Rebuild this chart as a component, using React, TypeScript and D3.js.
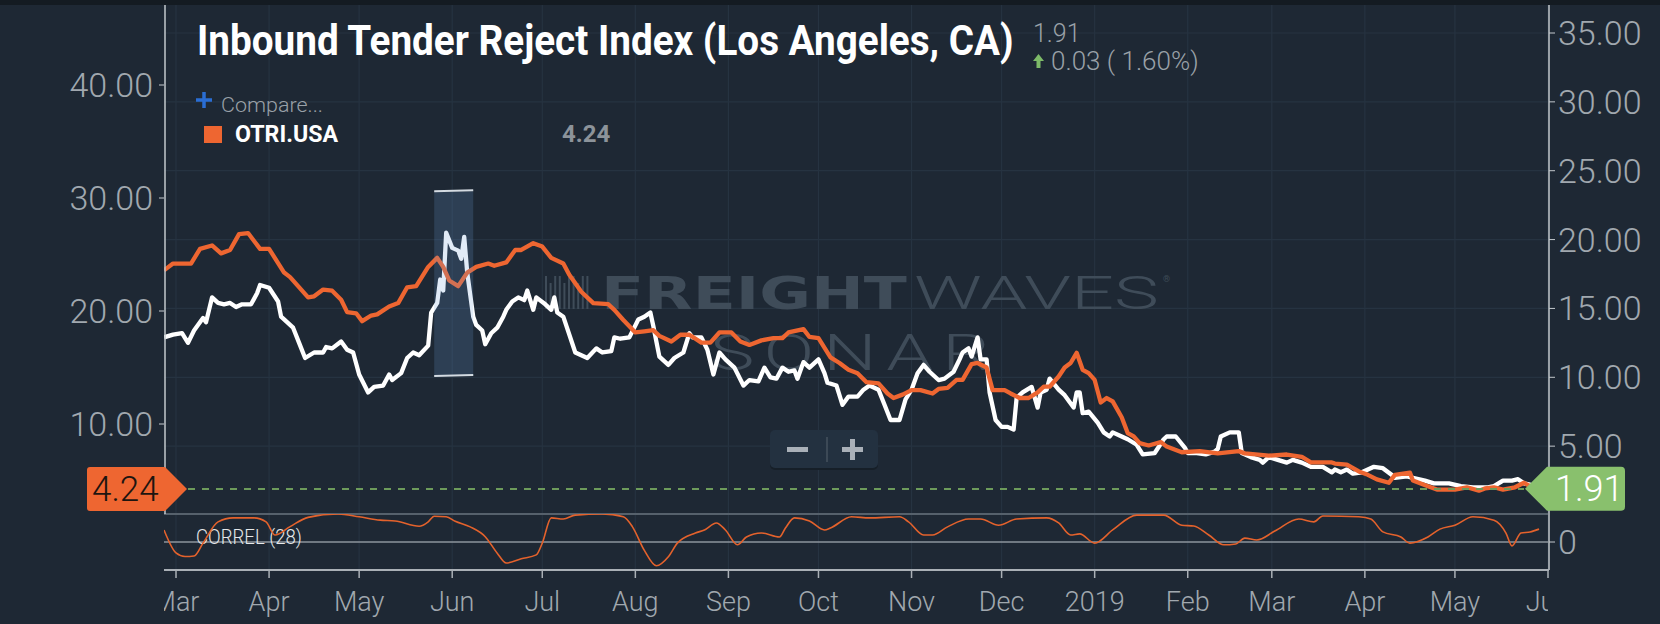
import React, { useEffect, useRef } from 'react';
import * as d3 from 'd3';

type Point = [string, number];

// OTRI.USA (left axis)
const otriUsa: Point[] = [
  ['2018-02-25', 23.6], ['2018-02-28', 24.2], ['2018-03-06', 24.2], ['2018-03-09', 25.5], ['2018-03-13', 25.8],
  ['2018-03-16', 25.1], ['2018-03-19', 25.4], ['2018-03-22', 26.8], ['2018-03-25', 26.9], ['2018-03-27', 26.2],
  ['2018-03-29', 25.5], ['2018-04-01', 25.5], ['2018-04-06', 23.4], ['2018-04-08', 23.0], ['2018-04-14', 21.2],
  ['2018-04-16', 21.3], ['2018-04-19', 21.9], ['2018-04-22', 21.8], ['2018-04-25', 21.0], ['2018-04-27', 19.9],
  ['2018-04-30', 19.8], ['2018-05-02', 19.1], ['2018-05-05', 19.6], ['2018-05-07', 19.7], ['2018-05-11', 20.4],
  ['2018-05-14', 20.7], ['2018-05-17', 22.1], ['2018-05-20', 22.2], ['2018-05-24', 23.9], ['2018-05-27', 24.7],
  ['2018-05-29', 23.9], ['2018-05-31', 22.7], ['2018-06-03', 22.2], ['2018-06-06', 23.4], ['2018-06-09', 23.9],
  ['2018-06-13', 24.2], ['2018-06-15', 24.0], ['2018-06-19', 24.3], ['2018-06-22', 25.4], ['2018-06-24', 25.4],
  ['2018-06-28', 26.0], ['2018-07-01', 25.7], ['2018-07-04', 24.7], ['2018-07-08', 24.2], ['2018-07-10', 23.2],
  ['2018-07-14', 21.7], ['2018-07-18', 20.7], ['2018-07-23', 20.6], ['2018-07-25', 20.1], ['2018-07-28', 19.2],
  ['2018-08-01', 18.1], ['2018-08-04', 18.2], ['2018-08-07', 18.3], ['2018-08-09', 17.8], ['2018-08-13', 17.3],
  ['2018-08-16', 17.9], ['2018-08-19', 17.9], ['2018-08-23', 17.2], ['2018-08-26', 17.2], ['2018-08-29', 18.1],
  ['2018-09-02', 18.1], ['2018-09-05', 17.3], ['2018-09-08', 17.0], ['2018-09-12', 17.4], ['2018-09-16', 17.6],
  ['2018-09-19', 17.6], ['2018-09-21', 18.1], ['2018-09-26', 18.4], ['2018-09-28', 17.7], ['2018-10-01', 17.6],
  ['2018-10-05', 15.9], ['2018-10-08', 15.4], ['2018-10-11', 14.8], ['2018-10-14', 14.5], ['2018-10-17', 13.7],
  ['2018-10-21', 13.6], ['2018-10-24', 12.7], ['2018-10-26', 12.3], ['2018-10-29', 12.6], ['2018-11-01', 13.0],
  ['2018-11-04', 13.0], ['2018-11-08', 12.7], ['2018-11-10', 13.1], ['2018-11-13', 13.2], ['2018-11-16', 13.9],
  ['2018-11-18', 13.9], ['2018-11-21', 15.3], ['2018-11-23', 15.4], ['2018-11-26', 15.0], ['2018-11-28', 13.0],
  ['2018-12-02', 13.0], ['2018-12-04', 12.7], ['2018-12-07', 12.3], ['2018-12-10', 12.3], ['2018-12-13', 12.8],
  ['2018-12-15', 13.3], ['2018-12-17', 13.3], ['2018-12-20', 14.2], ['2018-12-22', 15.0], ['2018-12-24', 15.4],
  ['2018-12-26', 16.3], ['2018-12-28', 14.8], ['2018-12-30', 14.5], ['2019-01-01', 13.9], ['2019-01-03', 11.9],
  ['2019-01-05', 12.3], ['2019-01-07', 12.0], ['2019-01-10', 10.6], ['2019-01-12', 9.2], ['2019-01-14', 8.9],
  ['2019-01-16', 8.3], ['2019-01-19', 8.1], ['2019-01-23', 8.4], ['2019-01-25', 8.0], ['2019-01-30', 7.5],
  ['2019-02-05', 7.6], ['2019-02-11', 7.4], ['2019-02-18', 7.6], ['2019-02-20', 7.4], ['2019-02-28', 7.2],
  ['2019-03-06', 7.3], ['2019-03-11', 7.1], ['2019-03-14', 6.6], ['2019-03-21', 6.6], ['2019-03-22', 6.5],
  ['2019-03-26', 6.4], ['2019-03-30', 5.8], ['2019-04-02', 5.5], ['2019-04-05', 5.1], ['2019-04-09', 4.8],
  ['2019-04-11', 5.5], ['2019-04-16', 5.7], ['2019-04-17', 5.0], ['2019-04-22', 4.5], ['2019-04-25', 4.2],
  ['2019-05-01', 4.2], ['2019-05-05', 4.4], ['2019-05-09', 4.1], ['2019-05-11', 4.3], ['2019-05-14', 4.4],
  ['2019-05-17', 4.2], ['2019-05-21', 4.4], ['2019-05-24', 4.8], ['2019-05-26', 4.5], ['2019-05-29', 4.24],
];

// Inbound Tender Reject Index, Los Angeles (right axis)
const inboundLA: Point[] = [
  ['2018-02-25', 12.9], ['2018-02-28', 13.1], ['2018-03-03', 13.2], ['2018-03-05', 12.5], ['2018-03-07', 13.4],
  ['2018-03-10', 14.3], ['2018-03-11', 14.0], ['2018-03-13', 15.8], ['2018-03-15', 15.4], ['2018-03-17', 15.3],
  ['2018-03-19', 15.4], ['2018-03-21', 15.1], ['2018-03-23', 15.3], ['2018-03-26', 15.3], ['2018-03-28', 16.1],
  ['2018-03-29', 16.7], ['2018-04-01', 16.5], ['2018-04-04', 15.5], ['2018-04-05', 14.4], ['2018-04-07', 14.0],
  ['2018-04-09', 13.6], ['2018-04-11', 12.5], ['2018-04-13', 11.4], ['2018-04-16', 11.8], ['2018-04-19', 11.8],
  ['2018-04-20', 12.2], ['2018-04-22', 12.1], ['2018-04-25', 12.6], ['2018-04-27', 12.0], ['2018-04-29', 11.8],
  ['2018-05-01', 10.2], ['2018-05-04', 8.9], ['2018-05-06', 9.3], ['2018-05-09', 9.4], ['2018-05-11', 10.2],
  ['2018-05-12', 9.8], ['2018-05-15', 10.3], ['2018-05-17', 11.4], ['2018-05-19', 11.8], ['2018-05-21', 11.6],
  ['2018-05-24', 12.3], ['2018-05-25', 14.7], ['2018-05-27', 15.4], ['2018-05-28', 17.1], ['2018-05-29', 16.3],
  ['2018-05-30', 20.5], ['2018-06-01', 19.4], ['2018-06-03', 19.2], ['2018-06-04', 18.6], ['2018-06-05', 20.2],
  ['2018-06-06', 17.6], ['2018-06-08', 14.4], ['2018-06-09', 13.8], ['2018-06-11', 13.4], ['2018-06-12', 12.4],
  ['2018-06-14', 13.2], ['2018-06-16', 13.6], ['2018-06-18', 14.4], ['2018-06-19', 14.9], ['2018-06-21', 15.5],
  ['2018-06-23', 15.8], ['2018-06-25', 15.6], ['2018-06-26', 16.3], ['2018-06-28', 14.9], ['2018-06-29', 15.8],
  ['2018-07-02', 15.3], ['2018-07-04', 14.9], ['2018-07-05', 15.8], ['2018-07-06', 14.7], ['2018-07-08', 14.4],
  ['2018-07-12', 11.8], ['2018-07-16', 11.4], ['2018-07-19', 12.1], ['2018-07-21', 11.8], ['2018-07-24', 11.9],
  ['2018-07-25', 12.9], ['2018-07-27', 12.8], ['2018-07-30', 12.9], ['2018-08-02', 14.2], ['2018-08-04', 14.4],
  ['2018-08-06', 14.7], ['2018-08-07', 13.7], ['2018-08-09', 11.5], ['2018-08-12', 10.9], ['2018-08-14', 11.4],
  ['2018-08-17', 11.8], ['2018-08-19', 13.2], ['2018-08-20', 12.9], ['2018-08-23', 12.9], ['2018-08-25', 12.0],
  ['2018-08-27', 10.2], ['2018-08-29', 11.8], ['2018-08-31', 11.3], ['2018-09-03', 10.7], ['2018-09-06', 9.4],
  ['2018-09-08', 9.8], ['2018-09-11', 9.7], ['2018-09-13', 10.7], ['2018-09-15', 10.0], ['2018-09-17', 9.9],
  ['2018-09-19', 10.7], ['2018-09-21', 10.4], ['2018-09-23', 10.5], ['2018-09-24', 9.9], ['2018-09-26', 11.1],
  ['2018-09-28', 10.7], ['2018-10-01', 11.3], ['2018-10-03', 10.3], ['2018-10-04', 9.6], ['2018-10-07', 9.4],
  ['2018-10-09', 8.0], ['2018-10-11', 8.6], ['2018-10-14', 8.6], ['2018-10-16', 9.1], ['2018-10-18', 9.4],
  ['2018-10-21', 9.1], ['2018-10-23', 8.0], ['2018-10-25', 6.9], ['2018-10-28', 6.9], ['2018-10-30', 8.4],
  ['2018-11-01', 9.1], ['2018-11-03', 10.3], ['2018-11-05', 10.9], ['2018-11-07', 10.4], ['2018-11-10', 9.8],
  ['2018-11-12', 9.9], ['2018-11-15', 10.4], ['2018-11-17', 11.3], ['2018-11-18', 11.8], ['2018-11-20', 12.1],
  ['2018-11-21', 11.5], ['2018-11-23', 12.9], ['2018-11-24', 11.3], ['2018-11-26', 11.3], ['2018-11-27', 8.9],
  ['2018-11-29', 6.9], ['2018-12-01', 6.4], ['2018-12-03', 6.4], ['2018-12-05', 6.2], ['2018-12-06', 8.5],
  ['2018-12-08', 8.9], ['2018-12-11', 9.3], ['2018-12-13', 7.8], ['2018-12-14', 8.9], ['2018-12-16', 9.1],
  ['2018-12-17', 9.9], ['2018-12-20', 9.1], ['2018-12-22', 8.7], ['2018-12-25', 7.8], ['2018-12-26', 8.9],
  ['2018-12-27', 8.9], ['2018-12-28', 7.4], ['2018-12-30', 7.5], ['2019-01-02', 6.7], ['2019-01-04', 6.0],
  ['2019-01-06', 5.7], ['2019-01-07', 6.0], ['2019-01-10', 5.7], ['2019-01-12', 5.5], ['2019-01-15', 5.1],
  ['2019-01-17', 4.4], ['2019-01-21', 4.5], ['2019-01-24', 5.5], ['2019-01-25', 5.7], ['2019-01-28', 5.7],
  ['2019-01-31', 4.9], ['2019-02-01', 4.5], ['2019-02-04', 4.5], ['2019-02-07', 4.4], ['2019-02-10', 4.6],
  ['2019-02-11', 4.8], ['2019-02-12', 5.7], ['2019-02-15', 6.0], ['2019-02-18', 6.0], ['2019-02-19', 4.5],
  ['2019-02-22', 4.2], ['2019-02-25', 4.0], ['2019-02-26', 3.8], ['2019-02-28', 4.2], ['2019-03-03', 4.0],
  ['2019-03-06', 3.8], ['2019-03-08', 4.0], ['2019-03-11', 3.8], ['2019-03-14', 3.5], ['2019-03-18', 3.5],
  ['2019-03-21', 3.1], ['2019-03-22', 3.3], ['2019-03-24', 3.1], ['2019-03-26', 3.3], ['2019-03-28', 3.0],
  ['2019-03-31', 3.1], ['2019-04-02', 3.3], ['2019-04-04', 3.5], ['2019-04-07', 3.4], ['2019-04-10', 2.9],
  ['2019-04-11', 2.7], ['2019-04-15', 2.8], ['2019-04-17', 2.7], ['2019-04-21', 2.5], ['2019-04-24', 2.3],
  ['2019-04-29', 2.3], ['2019-05-03', 2.1], ['2019-05-07', 2.0], ['2019-05-12', 2.0], ['2019-05-14', 2.1],
  ['2019-05-17', 2.5], ['2019-05-20', 2.5], ['2019-05-22', 2.6], ['2019-05-24', 2.3], ['2019-05-26', 2.2],
  ['2019-05-29', 1.91],
];

// CORREL (28) study
const correl28: Point[] = [
  ['2018-02-25', 0.43], ['2018-03-01', -0.39], ['2018-03-04', -0.52], ['2018-03-07', -0.5], ['2018-03-10', -0.04],
  ['2018-03-15', 0.72], ['2018-03-20', 0.86], ['2018-03-27', 0.86], ['2018-03-31', 0.72], ['2018-04-03', 0.25],
  ['2018-04-08', 0.55], ['2018-04-14', 0.88], ['2018-04-24', 1.0], ['2018-05-01', 0.9], ['2018-05-08', 0.78],
  ['2018-05-13', 0.75], ['2018-05-21', 0.56], ['2018-05-24', 0.72], ['2018-05-26', 0.92], ['2018-05-30', 0.9],
  ['2018-06-02', 0.74], ['2018-06-07', 0.54], ['2018-06-12', 0.19], ['2018-06-16', -0.4], ['2018-06-19', -0.75],
  ['2018-06-24', -0.6], ['2018-06-29', -0.46], ['2018-07-01', -0.04], ['2018-07-04', 0.86], ['2018-07-08', 0.82],
  ['2018-07-12', 0.96], ['2018-07-21', 1.0], ['2018-07-28', 0.9], ['2018-07-31', 0.55], ['2018-08-04', -0.3],
  ['2018-08-08', -0.85], ['2018-08-12', -0.53], ['2018-08-15', -0.04], ['2018-08-21', 0.32], ['2018-08-24', 0.43],
  ['2018-08-28', 0.68], ['2018-08-31', 0.43], ['2018-09-04', -0.1], ['2018-09-07', 0.18], ['2018-09-12', 0.32],
  ['2018-09-18', 0.18], ['2018-09-20', 0.5], ['2018-09-23', 0.86], ['2018-09-28', 0.75], ['2018-10-03', 0.43],
  ['2018-10-05', 0.5], ['2018-10-12', 0.9], ['2018-10-18', 0.86], ['2018-10-28', 0.9], ['2018-10-31', 0.72],
  ['2018-11-05', 0.25], ['2018-11-08', 0.25], ['2018-11-13', 0.54], ['2018-11-20', 0.82], ['2018-11-24', 0.82],
  ['2018-11-30', 0.6], ['2018-12-06', 0.82], ['2018-12-16', 0.86], ['2018-12-20', 0.68], ['2018-12-24', 0.25],
  ['2018-12-27', 0.29], ['2019-01-01', -0.04], ['2019-01-07', 0.43], ['2019-01-15', 0.96], ['2019-01-24', 0.96],
  ['2019-01-30', 0.6], ['2019-02-03', 0.57], ['2019-02-08', 0.25], ['2019-02-13', -0.1], ['2019-02-17', -0.07],
  ['2019-02-20', 0.14], ['2019-02-24', 0.07], ['2019-03-02', 0.39], ['2019-03-10', 0.82], ['2019-03-15', 0.72],
  ['2019-03-18', 0.93], ['2019-03-30', 0.9], ['2019-04-03', 0.82], ['2019-04-07', 0.36], ['2019-04-13', 0.18],
  ['2019-04-16', -0.04], ['2019-04-22', 0.18], ['2019-04-26', 0.46], ['2019-05-01', 0.6], ['2019-05-07', 0.9],
  ['2019-05-14', 0.78], ['2019-05-18', 0.32], ['2019-05-20', -0.14], ['2019-05-23', 0.32], ['2019-05-26', 0.36],
  ['2019-05-29', 0.46],
];

const leftTicks = [10, 20, 30, 40];
const rightTicks = [5, 10, 15, 20, 25, 30, 35];
const correlTicks = [0];
const highlightDates = ['2018-05-26', '2018-06-08'];
const highlightValues = [10.1, 23.5];
const lastInbound = 1.91;
const lastOtri = 4.24;
const changeText = '0.03 ( 1.60%)';

const FONT = 'Roboto, "Noto Sans", sans-serif';

type TextSel = d3.Selection<SVGTextElement, unknown, null, undefined>;

// squeeze or stretch a text horizontally so that it spans `w` pixels
const fitText = (sel: TextSel, x: number, y: number, w: number) => {
  sel.attr('x', 0).attr('y', 0);
  const natural = (sel.node() as SVGTextElement).getComputedTextLength() || w;
  sel.attr('transform', `translate(${x},${y}) scale(${w / natural},1)`);
};

const App: React.FC = () => {
  const svgRef = useRef<SVGSVGElement | null>(null);

  useEffect(() => {
    if (!svgRef.current) return;
    const svg = d3.select(svgRef.current);
    svg.selectAll('*').remove();

    const parse = d3.timeParse('%Y-%m-%d');
    const left = 164;
    const right = 1548;
    const top = 5;
    const mainBottom = 514;
    const corrBottom = 570;

    const x = d3.scaleTime()
      .domain([parse('2018-02-25') as Date, parse('2019-06-01') as Date])
      .range([left, right]);
    const yLeft = d3.scaleLinear().domain([0, 40]).range([537, 85]);
    const yRight = d3.scaleLinear().domain([0, 35]).range([515, 33]);
    const yCorr = d3.scaleLinear().domain([-1, 1]).range([570, 514]);

    // background
    svg.append('rect').attr('width', 1660).attr('height', 624).attr('fill', '#1e2834');
    svg.append('rect').attr('width', 1660).attr('height', 5).attr('fill', '#141b22');

    const defs = svg.append('defs');
    defs.append('clipPath').attr('id', 'main-clip')
      .append('rect').attr('x', left).attr('y', top).attr('width', right - left).attr('height', mainBottom - top);
    defs.append('clipPath').attr('id', 'corr-clip')
      .append('rect').attr('x', left).attr('y', mainBottom).attr('width', right - left).attr('height', corrBottom - mainBottom);
    defs.append('clipPath').attr('id', 'xlab-clip')
      .append('rect').attr('x', left).attr('y', corrBottom).attr('width', right - left).attr('height', 60);

    // grid
    const months = d3.timeMonth.range(parse('2018-03-01') as Date, parse('2019-06-02') as Date);
    const grid = svg.append('g').attr('stroke', '#263341').attr('stroke-width', 1.2);
    grid.selectAll('line.v').data(months).enter().append('line')
      .attr('x1', (d) => x(d)).attr('x2', (d) => x(d)).attr('y1', top).attr('y2', corrBottom);
    grid.selectAll('line.h').data(rightTicks).enter().append('line')
      .attr('x1', left).attr('x2', right).attr('y1', (d) => yRight(d)).attr('y2', (d) => yRight(d));

    // watermark
    const wm = svg.append('g').attr('fill', '#3f4c59');
    d3.range(10).forEach((i) => {
      const h = i % 3 === 1 ? 26 : 33;
      wm.append('rect').attr('x', 545 + i * 4.6).attr('y', 276 + (33 - h)).attr('width', 2).attr('height', h);
    });
    fitText(wm.append('text').attr('font-family', '"DejaVu Sans", sans-serif')
      .attr('font-weight', 700).attr('font-size', 45).text('FREIGHT'), 601, 309, 306);
    fitText(wm.append('text').attr('font-family', FONT)
      .attr('font-weight', 300).attr('font-size', 46).text('WAVES'), 914, 309, 245);
    wm.append('text').attr('x', 1163).attr('y', 282).attr('font-family', FONT).attr('font-size', 9).text('®');
    fitText(wm.append('text').attr('font-family', FONT)
      .attr('font-weight', 300).attr('font-size', 50).attr('letter-spacing', 6).text('SONAR'), 710, 370, 289);

    // series
    const lineLeft = d3.line<Point>().x((d) => x(parse(d[0]) as Date)).y((d) => yLeft(d[1]));
    const lineRight = d3.line<Point>().x((d) => x(parse(d[0]) as Date)).y((d) => yRight(d[1]));
    const lineCorr = d3.line<Point>().x((d) => x(parse(d[0]) as Date)).y((d) => yCorr(d[1])).curve(d3.curveMonotoneX);

    const plot = svg.append('g').attr('clip-path', 'url(#main-clip)');
    plot.append('path').datum(inboundLA).attr('d', lineRight).attr('fill', 'none')
      .attr('stroke', '#ffffff').attr('stroke-width', 4.3).attr('stroke-linejoin', 'round');
    plot.append('path').datum(otriUsa).attr('d', lineLeft).attr('fill', 'none')
      .attr('stroke', '#ee6631').attr('stroke-width', 4.3).attr('stroke-linejoin', 'round');

    // highlight box
    const hx0 = x(parse(highlightDates[0]) as Date);
    const hx1 = x(parse(highlightDates[1]) as Date);
    const hy0 = yRight(highlightValues[1]);
    const hy1 = yRight(highlightValues[0]);
    svg.append('rect').attr('x', hx0).attr('y', hy0).attr('width', hx1 - hx0).attr('height', hy1 - hy0)
      .attr('fill', 'rgb(105,155,217)').attr('fill-opacity', 0.2);
    [hy0, hy1].forEach((yy) => {
      svg.append('line').attr('x1', hx0).attr('x2', hx1).attr('y1', yy).attr('y2', yy - 1)
        .attr('stroke', '#d4dbe2').attr('stroke-width', 2);
    });

    // correl panel
    svg.append('line').attr('x1', left).attr('x2', right).attr('y1', mainBottom).attr('y2', mainBottom)
      .attr('stroke', '#56616c').attr('stroke-width', 2);
    svg.append('line').attr('x1', left).attr('x2', right).attr('y1', yCorr(0)).attr('y2', yCorr(0))
      .attr('stroke', '#8d959d').attr('stroke-width', 1.5);
    fitText(svg.append('text').attr('fill', '#e6e8ea').attr('font-family', FONT)
      .attr('font-weight', 300).attr('font-size', 20).text('CORREL (28)'), 196, 544, 106);
    svg.append('g').attr('clip-path', 'url(#corr-clip)').append('path').datum(correl28).attr('d', lineCorr)
      .attr('fill', 'none').attr('stroke', '#e4622c').attr('stroke-width', 1.6);

    // axes
    const axisColor = '#c3c8cd';
    const labelColor = '#a1a8af';
    svg.append('line').attr('x1', left + 1).attr('x2', left + 1).attr('y1', top).attr('y2', mainBottom)
      .attr('stroke', axisColor).attr('stroke-width', 1.5);
    svg.append('line').attr('x1', right + 1).attr('x2', right + 1).attr('y1', top).attr('y2', corrBottom)
      .attr('stroke', axisColor).attr('stroke-width', 1.5);
    svg.append('line').attr('x1', left).attr('x2', right + 1).attr('y1', corrBottom).attr('y2', corrBottom)
      .attr('stroke', '#aab0b6').attr('stroke-width', 2);

    const lt = svg.append('g');
    leftTicks.forEach((t) => {
      lt.append('line').attr('x1', left - 5).attr('x2', left).attr('y1', yLeft(t)).attr('y2', yLeft(t))
        .attr('stroke', axisColor).attr('stroke-width', 1);
      lt.append('text').attr('x', 153).attr('y', yLeft(t) + 12).attr('text-anchor', 'end')
        .attr('fill', labelColor).attr('font-family', FONT).attr('font-weight', 300).attr('font-size', 34)
        .text(d3.format('.2f')(t));
    });
    const rt = svg.append('g');
    rightTicks.forEach((t) => {
      rt.append('line').attr('x1', right + 1).attr('x2', right + 7).attr('y1', yRight(t)).attr('y2', yRight(t))
        .attr('stroke', axisColor).attr('stroke-width', 1);
      rt.append('text').attr('x', 1558).attr('y', yRight(t) + 12)
        .attr('fill', labelColor).attr('font-family', FONT).attr('font-weight', 300).attr('font-size', 34)
        .text(d3.format('.2f')(t));
    });
    correlTicks.forEach((t) => {
      rt.append('line').attr('x1', right + 1).attr('x2', right + 7).attr('y1', yCorr(t)).attr('y2', yCorr(t))
        .attr('stroke', axisColor).attr('stroke-width', 1);
      rt.append('text').attr('x', 1558).attr('y', yCorr(t) + 12)
        .attr('fill', labelColor).attr('font-family', FONT).attr('font-weight', 300).attr('font-size', 34)
        .text(String(t));
    });

    const xt = svg.append('g');
    const fmt = (d: Date) => (d.getMonth() === 0 ? d3.timeFormat('%Y')(d) : d3.timeFormat('%b')(d));
    xt.selectAll('line').data(months).enter().append('line')
      .attr('x1', (d) => x(d)).attr('x2', (d) => x(d)).attr('y1', corrBottom).attr('y2', corrBottom + 8)
      .attr('stroke', '#aab0b6').attr('stroke-width', 1.5);
    xt.append('g').attr('clip-path', 'url(#xlab-clip)').selectAll('text').data(months).enter().append('text')
      .attr('x', (d) => x(d)).attr('y', 611).attr('text-anchor', 'middle')
      .attr('fill', labelColor).attr('font-family', FONT).attr('font-weight', 300).attr('font-size', 27)
      .text((d) => fmt(d));

    // last value line and markers
    const yMark = yLeft(lastOtri);
    svg.append('line').attr('x1', 188).attr('x2', 1524).attr('y1', yMark).attr('y2', yMark)
      .attr('stroke', '#6d9b5b').attr('stroke-width', 2).attr('stroke-dasharray', '7,7');

    svg.append('path')
      .attr('d', `M90,${yMark - 22} H165 L187,${yMark} L165,${yMark + 22} H90 Q87,${yMark + 22} 87,${yMark + 19} V${yMark - 19} Q87,${yMark - 22} 90,${yMark - 22} Z`)
      .attr('fill', '#ee6631');
    svg.append('text').attr('x', 92).attr('y', yMark + 12).attr('fill', '#1d1510').attr('font-family', FONT)
      .attr('font-weight', 300).attr('font-size', 35).text(d3.format('.2f')(lastOtri));

    const yG = yRight(lastInbound);
    svg.append('path')
      .attr('d', `M1525,${yG} L1547,${yG - 22} H1621 Q1625,${yG - 22} 1625,${yG - 18} V${yG + 18} Q1625,${yG + 22} 1621,${yG + 22} H1547 Z`)
      .attr('fill', '#89c06d');
    svg.append('text').attr('x', 1555).attr('y', yG + 12).attr('fill', '#ffffff').attr('font-family', FONT)
      .attr('font-weight', 300).attr('font-size', 36).text(String(lastInbound));

    // title and quote
    fitText(svg.append('text').attr('fill', '#ffffff').attr('font-family', FONT)
      .attr('font-weight', 700).attr('font-size', 42).text('Inbound Tender Reject Index (Los Angeles, CA)'), 197, 55, 817);
    svg.append('text').attr('x', 1033).attr('y', 42).attr('fill', '#9aa1a8').attr('font-family', FONT)
      .attr('font-weight', 300).attr('font-size', 25).text(String(lastInbound));
    svg.append('path').attr('d', 'M1038.5,54 L1044,61 H1040.5 V68 H1036.5 V61 H1033 Z').attr('fill', '#7dba68');
    svg.append('text').attr('x', 1051).attr('y', 70).attr('fill', '#9aa1a8').attr('font-family', FONT)
      .attr('font-weight', 300).attr('font-size', 26).text(changeText);

    // legend
    svg.append('path').attr('d', 'M196,100 H212 M204,92 V108').attr('stroke', '#2a6dd3').attr('stroke-width', 3.5);
    fitText(svg.append('text').attr('fill', '#9aa1a8').attr('font-family', FONT)
      .attr('font-weight', 300).attr('font-size', 21).text('Compare...'), 221, 112, 102);
    svg.append('rect').attr('x', 204).attr('y', 126).attr('width', 18).attr('height', 17).attr('fill', '#ee6631');
    fitText(svg.append('text').attr('fill', '#ffffff').attr('font-family', FONT)
      .attr('font-weight', 700).attr('font-size', 23).text('OTRI.USA'), 235, 142, 103);
    svg.append('text').attr('x', 562).attr('y', 142).attr('fill', '#8c939a').attr('font-family', FONT)
      .attr('font-weight', 700).attr('font-size', 24).text(d3.format('.2f')(lastOtri));

    // zoom buttons
    const zb = svg.append('g');
    zb.append('rect').attr('x', 770).attr('y', 432).attr('width', 108).attr('height', 38).attr('rx', 5).attr('fill', '#161f28');
    zb.append('rect').attr('x', 770).attr('y', 430).attr('width', 108).attr('height', 38).attr('rx', 5).attr('fill', '#233140');
    zb.append('rect').attr('x', 787).attr('y', 447).attr('width', 21).attr('height', 5).attr('fill', '#a9b0b8');
    zb.append('line').attr('x1', 827).attr('x2', 827).attr('y1', 437).attr('y2', 462).attr('stroke', '#46525e').attr('stroke-width', 1.5);
    zb.append('rect').attr('x', 842).attr('y', 447).attr('width', 21).attr('height', 5).attr('fill', '#a9b0b8');
    zb.append('rect').attr('x', 850).attr('y', 439).attr('width', 5).attr('height', 21).attr('fill', '#a9b0b8');
  }, []);

  return (
    <svg ref={svgRef} width={1660} height={624}
      style={{ position: 'absolute', left: 0, top: 0, display: 'block' }}></svg>
  );
};

export default App;
